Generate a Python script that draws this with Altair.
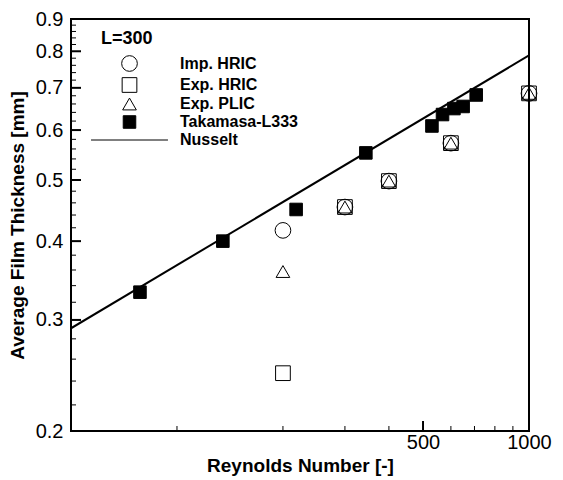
import altair as alt
import pandas as pd

# ---- data ----
legend_title = ["L=300"]
series_names = ["Imp. HRIC", "Exp. HRIC", "Exp. PLIC", "Takamasa-L333", "Nusselt"]

re_sim = [200, 300, 400, 600, 1000]
imp_hric = [0.416, 0.453, 0.498, 0.572, 0.686]
exp_hric = [0.247, 0.453, 0.498, 0.572, 0.686]
exp_plic = [0.358, 0.453, 0.498, 0.572, 0.686]

tak_re = [78.5, 135, 218, 344, 530, 568, 612, 650, 708]
tak_t = [0.332, 0.400, 0.449, 0.552, 0.609, 0.635, 0.649, 0.654, 0.682]

nus_re = [50, 1000]
nus_t = [0.291, 0.788]

x_major_ticks = [500, 1000]
x_minor_ticks = [100, 200, 300, 400, 600, 700, 800, 900]
y_major_ticks = [0.2, 0.3, 0.4, 0.5, 0.6, 0.7, 0.8, 0.9]
y_minor_ticks = [0.22, 0.24, 0.26, 0.28, 0.32, 0.34, 0.36, 0.38,
                 0.42, 0.44, 0.46, 0.48, 0.52, 0.54, 0.56, 0.58,
                 0.62, 0.64, 0.66, 0.68, 0.72, 0.74, 0.76, 0.78,
                 0.82, 0.84, 0.86, 0.88]

# ---- tables ----
pts = pd.DataFrame({
    "Re": re_sim * 3 + tak_re,
    "t": imp_hric + exp_hric + exp_plic + tak_t,
    "series": ["Imp. HRIC"] * len(re_sim) + ["Exp. HRIC"] * len(re_sim)
              + ["Exp. PLIC"] * len(re_sim) + ["Takamasa-L333"] * len(tak_re),
})
nus = pd.DataFrame({"Re": nus_re, "t": nus_t})
xmaj = pd.DataFrame({"v": x_major_ticks})
xmin = pd.DataFrame({"v": x_minor_ticks})
ymaj = pd.DataFrame({"v": y_major_ticks})
ymin = pd.DataFrame({"v": y_minor_ticks})
ttl = pd.DataFrame({"txt": legend_title})

W, H = 458, 412
FONT = "Liberation Sans"

xs = alt.Scale(type="log", domain=[50, 1000])
ys = alt.Scale(type="log", domain=[0.2, 0.9])
x_axis = alt.Axis(values=x_major_ticks, format="d", title="Reynolds Number [-]",
                  labelPadding=1, titlePadding=4, labelFlush=False, labelOverlap=False)
y_axis = alt.Axis(values=y_major_ticks, format=".1f", title="Average Film Thickness [mm]",
                  labelPadding=8, titlePadding=8, labelFlush=False, labelOverlap=False)

leg = alt.Legend(
    title=None, orient="none", legendX=50, legendY=36,
    labelFont=FONT, labelFontSize=16, labelFontWeight="bold", labelColor="black",
    labelOffset=42, rowPadding=1, padding=0, symbolSize=196,
    symbolStrokeColor="black",
)

points = alt.Chart(pts).mark_point(opacity=1, fillOpacity=1, strokeOpacity=1).encode(
    x=alt.X("Re:Q", scale=xs, axis=x_axis),
    y=alt.Y("t:Q", scale=ys, axis=y_axis),
    shape=alt.Shape("series:N", scale=alt.Scale(
        domain=series_names,
        range=["circle", "square", "triangle-up", "square", "M-6.8,0L6.8,0"]), legend=leg),
    fill=alt.Fill("series:N", scale=alt.Scale(
        domain=series_names,
        range=["transparent", "transparent", "transparent", "black", "transparent"]), legend=leg),
    stroke=alt.Stroke("series:N", scale=alt.Scale(
        domain=series_names,
        range=["black", "black", "black", "black", "black"]), legend=leg),
    size=alt.Size("series:N", scale=alt.Scale(
        domain=series_names, range=[246, 128, 196, 121, 100]), legend=leg),
    strokeWidth=alt.StrokeWidth("series:N", scale=alt.Scale(
        domain=series_names, range=[1, 1, 1, 1, 2]), legend=leg),
)

line = alt.Chart(nus).mark_line(color="black", strokeWidth=2, clip=True).encode(
    x=alt.X("Re:Q", scale=xs, axis=x_axis),
    y=alt.Y("t:Q", scale=ys, axis=y_axis),
)

title_txt = alt.Chart(ttl).mark_text(
    align="left", baseline="middle", font=FONT, fontSize=18, fontWeight="bold", color="black"
).encode(text="txt:N", x=alt.value(30), y=alt.value(20))

xt_major = alt.Chart(xmaj).mark_rule(color="black", strokeWidth=2).encode(
    x=alt.X("v:Q", scale=xs, axis=x_axis), y=alt.value(H), y2=alt.value(H - 10))
xt_minor = alt.Chart(xmin).mark_rule(color="black", strokeWidth=1).encode(
    x=alt.X("v:Q", scale=xs, axis=x_axis), y=alt.value(H), y2=alt.value(H - 5))
yt_major = alt.Chart(ymaj).mark_rule(color="black", strokeWidth=2).encode(
    y=alt.Y("v:Q", scale=ys, axis=y_axis), x=alt.value(0), x2=alt.value(10))
yt_minor = alt.Chart(ymin).mark_rule(color="black", strokeWidth=1).encode(
    y=alt.Y("v:Q", scale=ys, axis=y_axis), x=alt.value(0), x2=alt.value(5))

chart = alt.layer(xt_minor, xt_major, yt_minor, yt_major, line, points, title_txt).properties(
    width=W, height=H,
    autosize=alt.AutoSizeParams(type="none"),
    padding={"left": 63, "top": 11, "right": 26, "bottom": 45},
    background="white",
).configure_view(
    stroke="black", strokeWidth=2
).configure_axis(
    labelFont=FONT, labelFontSize=20, labelColor="black",
    titleFont=FONT, titleFontSize=19, titleFontWeight="bold", titleColor="black",
    ticks=False, domain=False, grid=False,
)

chart.save("out.html", embed_options={"renderer": "svg", "actions": False})
